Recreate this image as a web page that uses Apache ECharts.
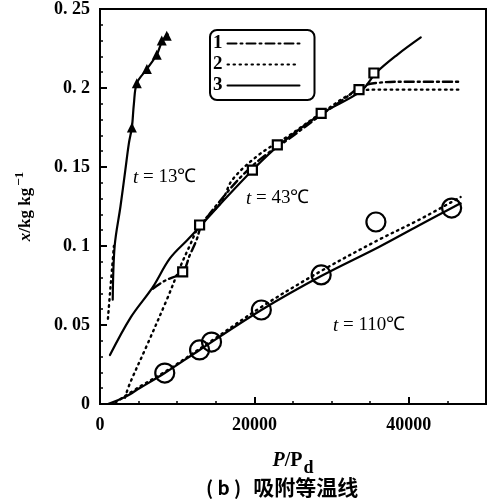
<!DOCTYPE html>
<html>
<head>
<meta charset="utf-8">
<script src="https://cdn.jsdelivr.net/npm/echarts@6/dist/echarts.min.js"></script>
<style>html,body{margin:0;padding:0;background:#fff;}#c{width:489px;height:499px;}</style>
</head>
<body>
<div id="c"></div>
<script>
// ---- data ----
const xTickValues = [0, 20000, 40000];
const xTickLabels = ['0', '20000', '40000'];
const yTickLabels = ['0', '0. 05', '0. 1', '0. 15', '0. 2', '0. 25'];
const legendNames = ['1', '2', '3'];

// t = 13 C
const solid13 = [[1650,0.066],[1900,0.100],[2650,0.125],[3280,0.148],[3740,0.165],[4130,0.175],[4390,0.190],[4770,0.203],[6070,0.212],[7350,0.221],[8000,0.229],[8770,0.234]];
const dotted13 = [[1030,0.054],[1290,0.070],[1550,0.085],[1800,0.100]];
const triangles13 = [[4130,0.175],[4770,0.203],[6070,0.212],[7350,0.221],[8000,0.230],[8650,0.233]];

// t = 43 C
const solid43 = [[1290,0.031],[4000,0.055],[6840,0.074],[9030,0.092],[11350,0.104],[12900,0.112],[15480,0.126],[19740,0.148],[23230,0.164],[28770,0.184],[33800,0.198],[35740,0.2095],[38500,0.221],[41550,0.232]];
const dashdot43 = [[6840,0.073],[8390,0.078],[10710,0.0836],[11610,0.094],[12520,0.104],[13160,0.113],[16130,0.132],[18710,0.146],[21290,0.157],[24520,0.168],[28650,0.183],[31610,0.193],[33550,0.200],[35480,0.203],[40000,0.204],[46710,0.204]];
const dotted43 = [[3230,0.004],[3870,0.013],[6070,0.037],[8650,0.066],[10320,0.086],[11610,0.100],[12900,0.113],[15740,0.128],[17160,0.142],[20650,0.158],[24520,0.170],[28650,0.184],[33550,0.198],[36000,0.199],[46710,0.199]];
const squares43 = [[10710,0.0836],[12900,0.1133],[19740,0.148],[22970,0.164],[28650,0.184],[33550,0.199],[35480,0.2095]];

// t = 110 C
const solid110 = [[1030,0],[3230,0.0044],[5160,0.0101],[8390,0.0196],[12900,0.0342],[20900,0.0595],[28650,0.081],[36130,0.0994],[41290,0.113],[46710,0.127]];
const dotted110 = [[2000,0.001],[5160,0.011],[8390,0.0203],[14450,0.040],[20900,0.0614],[28650,0.0842],[36130,0.104],[41290,0.1165],[46710,0.131]];
const circles110 = [[8390,0.0196],[12900,0.0342],[14450,0.0392],[20900,0.0595],[28650,0.0817],[35740,0.1152],[45550,0.124]];

const curveLabels = [
  {text: '{i|t} = 13℃', x: 133, y: 179},
  {text: '{i|t} = 43℃', x: 246, y: 200},
  {text: '{i|t} = 110℃', x: 333, y: 327}
];

// ---- chart ----
const serif = 'Liberation Serif, Times New Roman, serif';
const dashDot = [9, 4, 2, 4];
const dotted = [1.5, 4.5];

function lineSeries(name, data, type) {
  return {
    type: 'line', name: name, data: data, smooth: 0.35, symbol: 'none',
    itemStyle: {color: '#000'},
    lineStyle: {color: '#000', width: type === 'solid' ? 2.2 : 2.4, type: type === 'solid' ? 'solid' : (type === 'dot' ? dotted : dashDot), cap: 'round'},
    z: 3
  };
}

const chart = echarts.init(document.getElementById('c'), null, {renderer: 'canvas'});
chart.setOption({
  animation: false,
  backgroundColor: '#fff',
  grid: {left: 100, right: 2, top: 9, bottom: 95, show: true, borderColor: '#000', borderWidth: 2},
  legend: {
    data: legendNames,
    orient: 'vertical', left: 210, top: 30,
    align: 'right',
    itemWidth: 72, itemHeight: 14, itemGap: 2,
    padding: [4, 14, 5, 3],
    borderColor: '#000', borderWidth: 2, borderRadius: 7,
    itemStyle: {opacity: 0},
    textStyle: {fontFamily: serif, fontWeight: 'bold', fontSize: 19, color: '#000', lineHeight: 15},
    selectedMode: false
  },
  xAxis: {
    type: 'value', min: 0, max: 50000, interval: 20000,
    name: '{i|P}/P{sub|d}', nameLocation: 'middle', nameGap: 40,
    nameTextStyle: {fontFamily: serif, fontWeight: 'bold', fontSize: 20, color: '#000',
      rich: {i: {fontFamily: serif, fontStyle: 'italic', fontWeight: 'bold', fontSize: 20},
             sub: {fontFamily: serif, fontSize: 18, verticalAlign: 'top', padding: [15, 0, 0, 1]}}},
    axisLine: {show: true, lineStyle: {color: '#000', width: 2}},
    axisTick: {show: true, inside: true, length: 7, lineStyle: {color: '#000', width: 2}},
    minorTick: {show: true, splitNumber: 4, length: 3, lineStyle: {color: '#000', width: 1.5}},
    splitLine: {show: false},
    axisLabel: {
      margin: 12, fontFamily: serif, fontWeight: 'bold', fontSize: 18, color: '#000',
      formatter: function (v) { const i = xTickValues.indexOf(v); return i >= 0 ? xTickLabels[i] : ''; }
    }
  },
  yAxis: {
    type: 'value', min: 0, max: 0.25, interval: 0.05,
    name: '{i|x}/kg kg{sup|−1}', nameLocation: 'middle', nameGap: 62, nameRotate: 90,
    nameTextStyle: {fontFamily: serif, fontWeight: 'bold', fontSize: 17, color: '#000',
      rich: {i: {fontFamily: serif, fontStyle: 'italic', fontWeight: 'bold', fontSize: 17},
             sup: {fontFamily: serif, fontWeight: 'bold', fontSize: 13, verticalAlign: 'bottom', padding: [0, 0, 12, 2]}}},
    axisLine: {show: true, lineStyle: {color: '#000', width: 2}},
    axisTick: {show: true, inside: true, length: 7, lineStyle: {color: '#000', width: 2}},
    minorTick: {show: true, splitNumber: 5, length: 3, lineStyle: {color: '#000', width: 1.5}},
    splitLine: {show: false},
    axisLabel: {
      margin: 10, fontFamily: serif, fontWeight: 'bold', fontSize: 18, color: '#000',
      formatter: function (v, i) { return yTickLabels[i] !== undefined ? yTickLabels[i] : ''; }
    }
  },
  title: {
    text: '{p|( b )}{c|吸附等温线}', left: 201, top: 472,
    textStyle: {fontFamily: 'Noto Sans CJK SC', fontWeight: 'bold', fontSize: 20, color: '#000',
      rich: {p: {fontFamily: 'Noto Sans CJK SC', fontWeight: 'bold', fontSize: 19, padding: [0, 12, 0, 0]},
             c: {fontFamily: 'Noto Sans CJK SC', fontWeight: 'bold', fontSize: 21}}}
  },
  graphic: curveLabels.map(function (l) {
    return {type: 'text', left: l.x, top: l.y - 11, z: 10,
      style: {text: l.text, fontFamily: serif, fontSize: 19, fill: '#000',
        rich: {i: {fontFamily: serif, fontStyle: 'italic', fontSize: 19, fill: '#000'}}}};
  }),
  series: [
    lineSeries('3', solid13, 'solid'),
    lineSeries('2', dotted13, 'dot'),
    lineSeries('3', solid43, 'solid'),
    lineSeries('1', dashdot43, 'dashdot'),
    lineSeries('2', dotted43, 'dot'),
    lineSeries('3', solid110, 'solid'),
    lineSeries('2', dotted110, 'dot'),
    {type: 'scatter', name: 'tri', data: triangles13, symbol: 'triangle', symbolSize: 10,
      itemStyle: {color: '#000', opacity: 1}, z: 5},
    {type: 'scatter', name: 'sq', data: squares43, symbol: 'rect', symbolSize: 9,
      itemStyle: {color: '#fff', borderColor: '#000', borderWidth: 2.2, opacity: 1}, z: 5},
    {type: 'scatter', name: 'circ', data: circles110, symbol: 'circle', symbolSize: 19,
      itemStyle: {color: 'rgba(0,0,0,0)', borderColor: '#000', borderWidth: 2.2, opacity: 1}, z: 5}
  ]
});
</script>
</body>
</html>
